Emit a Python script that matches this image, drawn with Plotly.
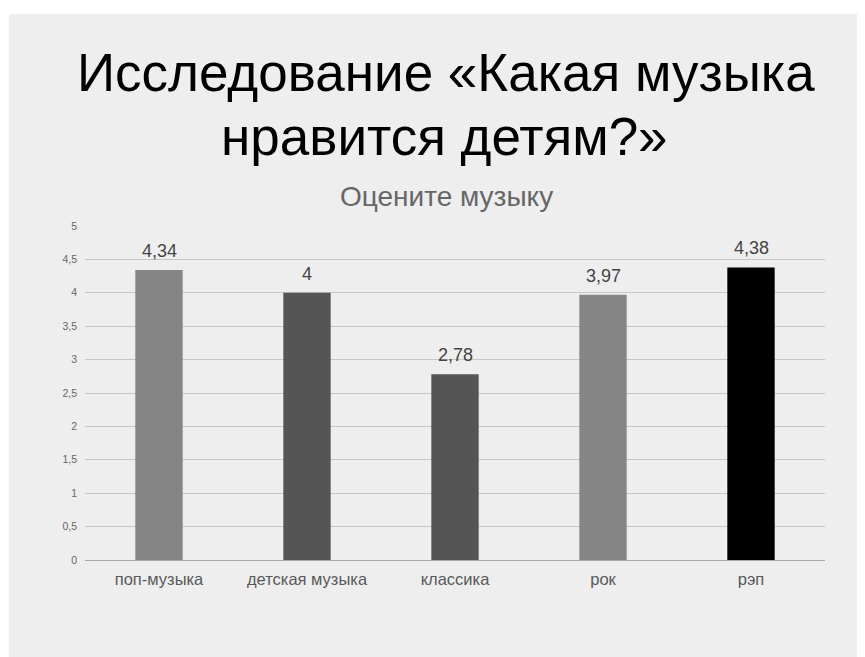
import plotly.graph_objects as go

categories = ["поп-музыка", "детская музыка", "классика", "рок", "рэп"]
values = [4.34, 4.0, 2.78, 3.97, 4.38]
value_labels = ["4,34", "4", "2,78", "3,97", "4,38"]
bar_colors = ["#858585", "#555555", "#555555", "#858585", "#000000"]
y_ticks = [0, 0.5, 1, 1.5, 2, 2.5, 3, 3.5, 4, 4.5, 5]
title_line1 = "Исследование «Какая музыка"
title_line2 = "нравится детям?»"
subtitle = "Оцените музыку"

# The page body adds an 8px offset; work in screen pixels and convert.
OFF = 8
SW, SH = 865, 657
W, H = SW - OFF, SH - OFF
PX0, PX1, PY0, PY1 = 85, 825, 226, 560  # plot area in screen pixels
L = PX0 - OFF
R = W - (PX1 - OFF)
T = PY0 - OFF
B = H - (PY1 - OFF)
pw, ph = PX1 - PX0, PY1 - PY0

def px_x(sx):
    return (sx - PX0) / pw

def px_y(sy):
    return (PY1 - sy) / ph

fig = go.Figure()
fig.add_trace(go.Bar(
    x=categories, y=values,
    marker=dict(color=bar_colors, line=dict(width=0)),
    width=0.32,
    hoverinfo="x+y",
))

annotations = [
    dict(text=title_line1, xref="paper", yref="paper", x=px_x(446), y=px_y(72),
         xanchor="center", yanchor="middle", showarrow=False,
         font=dict(size=53, color="#000000")),
    dict(text=title_line2, xref="paper", yref="paper", x=px_x(444), y=px_y(136),
         xanchor="center", yanchor="middle", showarrow=False,
         font=dict(size=53, color="#000000")),
    dict(text=subtitle, xref="paper", yref="paper", x=px_x(446), y=px_y(196),
         xanchor="center", yanchor="middle", showarrow=False,
         font=dict(size=28, color="#666666")),
]
for c, v, lab in zip(categories, values, value_labels):
    annotations.append(dict(
        text=lab, x=c, y=v, xref="x", yref="y",
        xanchor="center", yanchor="middle", yshift=19, showarrow=False,
        font=dict(size=18, color="#444444"),
    ))

fig.update_layout(
    width=W, height=H,
    margin=dict(l=L, r=R, t=T, b=B),
    paper_bgcolor="white",
    plot_bgcolor="rgba(0,0,0,0)",
    separators=", ",
    showlegend=False,
    font=dict(family="Liberation Sans, Arial, sans-serif"),
    shapes=[dict(type="rect", xref="paper", yref="paper",
                 x0=px_x(9), x1=px_x(SW + 10), y0=px_y(SH + 10), y1=px_y(14),
                 fillcolor="#eeeeee", line=dict(width=0), layer="below")],
    annotations=annotations,
)
fig.update_yaxes(
    range=[0, 5], tickvals=y_ticks,
    showgrid=True, gridcolor="#c6c6c6", gridwidth=1,
    zeroline=False, showline=False,
    tickfont=dict(size=10.5, color="#666666"),
    ticklabelstandoff=7,
)
fig.update_xaxes(
    showline=True, linecolor="#aaaaaa", linewidth=1,
    showgrid=False,
    tickfont=dict(size=16.5, color="#595959"),
    ticklabelstandoff=4,
)

fig.write_html("out.html")
